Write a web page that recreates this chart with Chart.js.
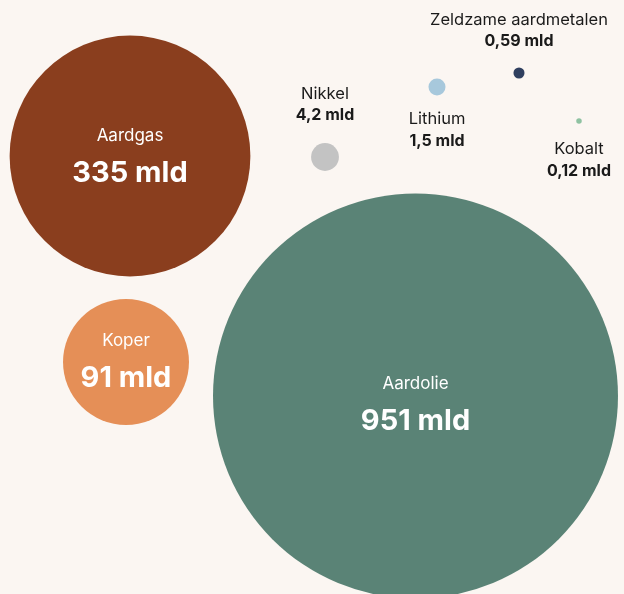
<!DOCTYPE html>
<html>
<head>
<meta charset="utf-8">
<script src="https://cdn.jsdelivr.net/npm/chart.js@4"></script>
<style>
  html, body { margin: 0; padding: 0; background: #fbf6f2; }
  #wrap { width: 624px; height: 594px; }
</style>
</head>
<body>
<div id="wrap"><canvas id="bubbles" width="624" height="594"></canvas></div>
<script>
// grondstoffen en waarde (miljard)
const names = ["Aardolie", "Aardgas", "Koper", "Nikkel", "Lithium", "Zeldzame aardmetalen", "Kobalt"];
const values = [951, 335, 91, 4.2, 1.5, 0.59, 0.12];
const valueLabels = ["951 mld", "335 mld", "91 mld", "4,2 mld", "1,5 mld", "0,59 mld", "0,12 mld"];

// plaats van de bellen (layout-coordinaten)
const xPos = [415.5, 130, 126, 325, 437, 519, 579];
const yPos = [396, 156, 362, 157, 87, 73, 121];
const labelPlace = ["inside", "inside", "inside", "above", "below", "above", "below"];
const labelShift = [7, -1, -2, 0, 0, 2, 1];
const colors = ["#5a8376", "#8a3e1e", "#e58f57", "#c3c3c3", "#a7c8dc", "#2f3f5f", "#8fc2a2"];

const K = 6.55; // straal per wortel(waarde)

const points = values.map((v, i) => ({ x: xPos[i], y: yPos[i], r: K * Math.sqrt(v) + 0.5 }));

// tekst bij de bellen
const labelPlugin = {
    id: "bubbleLabels",
    afterDatasetsDraw(chart) {
        const ctx = chart.ctx;
        const xs = chart.scales.x, ys = chart.scales.y;
        ctx.save();
        ctx.textAlign = "center";
        ctx.textBaseline = "middle";
        points.forEach((p, i) => {
            const cx = xs.getPixelForValue(p.x);
            const cy = ys.getPixelForValue(p.y) + labelShift[i];
            if (labelPlace[i] === "inside") {
                ctx.fillStyle = "#ffffff";
                ctx.font = "400 17px Inter, 'Noto Sans', sans-serif";
                ctx.fillText(names[i], cx, cy - 19);
                ctx.font = "700 29px Inter, 'Noto Sans', sans-serif";
                ctx.fillText(valueLabels[i], cx, cy + 18);
            } else {
                let nameY, valY;
                if (labelPlace[i] === "above") {
                    valY = cy - p.r - 28;
                    nameY = valY - 21;
                } else {
                    nameY = cy + p.r + 24;
                    valY = nameY + 22;
                }
                ctx.fillStyle = "#1a1a1a";
                ctx.font = "400 16.5px Inter, 'Noto Sans', sans-serif";
                ctx.fillText(names[i], cx, nameY);
                ctx.font = "700 16px Inter, 'Noto Sans', sans-serif";
                ctx.fillText(valueLabels[i], cx, valY);
            }
        });
        ctx.restore();
    }
};

new Chart(document.getElementById("bubbles"), {
    type: "bubble",
    data: {
        datasets: [{
            data: points,
            backgroundColor: colors,
            borderWidth: 0,
            hoverRadius: 0,
            clip: false
        }]
    },
    options: {
        responsive: false,
        animation: false,
        events: [],
        layout: { padding: 0, autoPadding: false },
        plugins: { legend: { display: false }, tooltip: { enabled: false } },
        scales: {
            x: { display: false, min: 0, max: 624 },
            y: { display: false, min: 0, max: 594, reverse: true }
        }
    },
    plugins: [labelPlugin]
});
</script>
</body>
</html>
